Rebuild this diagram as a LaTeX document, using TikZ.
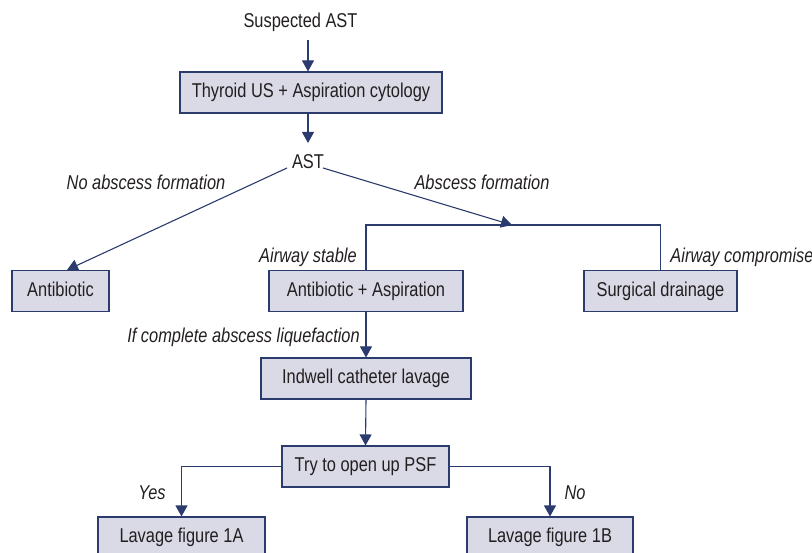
\documentclass[tikz,border=0pt]{standalone}
\usepackage{fontspec}
\setmainfont[FakeStretch=0.82]{Liberation Sans}
\usetikzlibrary{arrows.meta}
\definecolor{navy}{HTML}{2C3B6E}
\definecolor{boxfill}{HTML}{DAD9E6}
\definecolor{txt}{HTML}{231F20}
\tikzset{
  box/.style={draw=navy, fill=boxfill, line width=1.1pt, inner sep=0pt,
    minimum height=41pt, text height=14.5pt, text depth=4pt, text=txt,
    font=\fontsize{20}{24}\selectfont},
  lbl/.style={inner sep=0pt, anchor=base, text=txt, font=\fontsize{20}{24}\selectfont},
  ilbl/.style={lbl, font=\fontsize{20}{24}\selectfont\itshape},
  con/.style={draw=navy, line width=1.1pt},
  arr/.style={con, -{Triangle[width=12pt,length=11pt]}},
}
\begin{document}
\begin{tikzpicture}[x=1pt,y=-1pt]
\useasboundingbox (0,0) rectangle (812,553);
% nodes
\node[lbl] (susp) at (300.5,28) {Suspected AST};
\node[box, minimum width=262pt] (box1) at (311,92.5) {Thyroid US + Aspiration cytology};
\node[lbl] (ast) at (308,169) {AST};
\coordinate (astL) at (287,168);
\coordinate (astR) at (323,168);
\coordinate (split) at (512,225);
\coordinate (antT) at (67,270);
\node[box, minimum width=97pt] (antib) at (60.5,291) {Antibiotic};
\node[box, minimum width=194pt] (aa) at (366,291) {Antibiotic + Aspiration};
\node[box, minimum width=153pt] (sd) at (660.5,291) {Surgical drainage};
\node[box, minimum width=210pt] (ind) at (366,378.5) {Indwell catheter lavage};
\node[box, minimum width=167pt] (try) at (365.5,466.5) {Try to open up PSF};
\node[box, minimum width=167pt] (la) at (181.5,537.5) {Lavage figure 1A};
\node[box, minimum width=166pt] (lb) at (550,537.5) {Lavage figure 1B};
% labels
\node[ilbl] (l1) at (146,190) {No abscess formation};
\node[ilbl] (l2) at (482,190) {Abscess formation};
\node[ilbl] (l3) at (308,263) {Airway stable};
\node[ilbl] (l4) at (742,263) {Airway compromise};
\node[ilbl] (l5) at (243.5,343) {If complete abscess liquefaction};
\node[ilbl] (l6) at (152,500) {Yes};
\node[ilbl] (l7) at (575,500) {No};
% connectors
\draw[arr] ([yshift=-12pt]susp.base -| ast) -- (box1.north -| ast);
\draw[arr] (box1.south -| ast) -- ([yshift=26pt]ast.base);
\draw[arr] (astL) -- (antT);
\draw[arr] (astR) -- (split);
\draw[con] (aa.north) -- (aa.north |- split) -- (sd.north |- split) -- (sd.north);
\draw[arr] (aa.south) -- (ind.north);
\draw[arr] (ind.south) -- (try.north);
\draw[arr] (try.west) -| (la.north);
\draw[arr] (try.east) -| (lb.north);
\end{tikzpicture}
\end{document}
